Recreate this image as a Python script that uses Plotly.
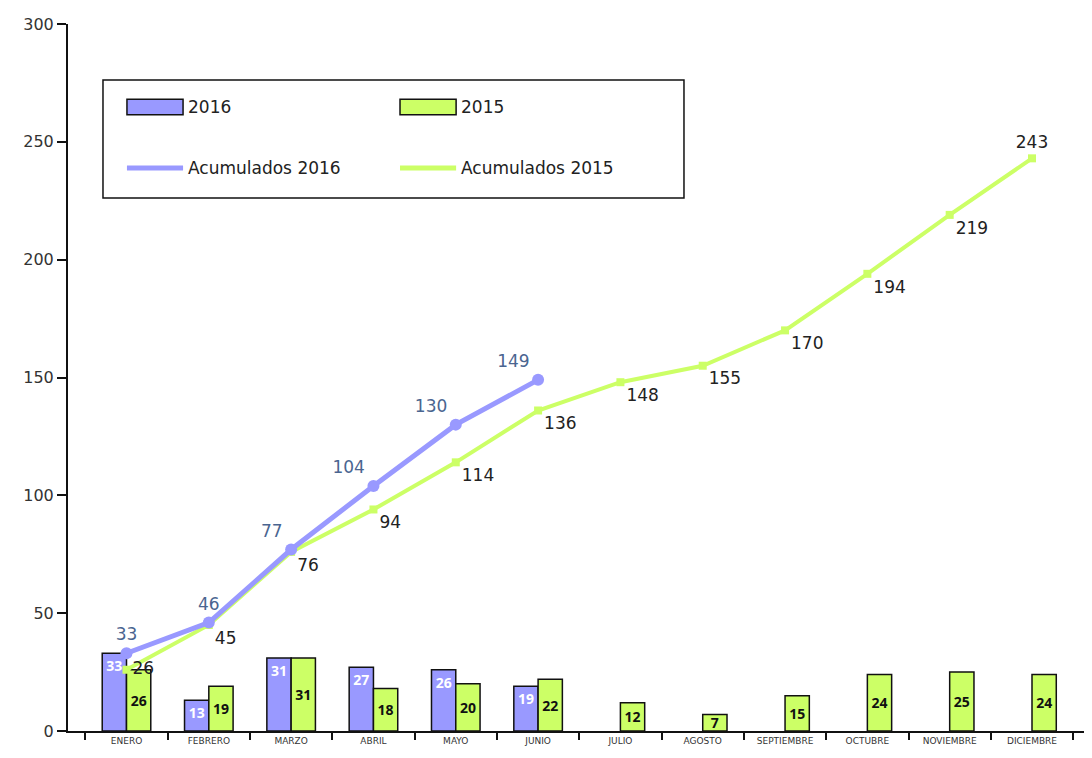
import plotly.graph_objects as go

months = ['ENERO', 'FEBRERO', 'MARZO', 'ABRIL', 'MAYO', 'JUNIO', 'JULIO',
          'AGOSTO', 'SEPTIEMBRE', 'OCTUBRE', 'NOVIEMBRE', 'DICIEMBRE']
bars_2016 = [33, 13, 31, 27, 26, 19, None, None, None, None, None, None]
bars_2015 = [26, 19, 31, 18, 20, 22, 12, 7, 15, 24, 25, 24]
acum_2016 = [33, 46, 77, 104, 130, 149]
acum_2015 = [26, 45, 76, 94, 114, 136, 148, 155, 170, 194, 219, 243]

c2016 = '#9999ff'
c2015 = '#ccff66'
lbl_font = 'Open Sans'

fig = go.Figure()

# monthly bars
fig.add_trace(go.Bar(
    x=months, y=bars_2016, name='2016',
    marker=dict(color=c2016, line=dict(color='#111111', width=1.5)),
    text=bars_2016, textposition='inside', insidetextanchor='end', textangle=0,
    textfont=dict(color='white', size=14, family=lbl_font, weight='bold'),
))
fig.add_trace(go.Bar(
    x=months, y=bars_2015, name='2015',
    marker=dict(color=c2015, line=dict(color='#111111', width=1.5)),
    text=bars_2015, textposition='inside', insidetextanchor='middle', textangle=0,
    textfont=dict(color='#111111', size=14, family=lbl_font, weight='bold'),
))

# cumulative lines
fig.add_trace(go.Scatter(
    x=months[:len(acum_2015)], y=acum_2015, name='Acumulados 2015',
    mode='lines+markers+text',
    line=dict(color=c2015, width=4),
    marker=dict(color=c2015, size=8, symbol='square'),
    text=acum_2015,
    textposition=['middle right'] + ['bottom right'] * 10 + ['top center'],
    textfont=dict(color='#222222', size=17, family='DejaVu Sans'),
    cliponaxis=False,
))
fig.add_trace(go.Scatter(
    x=months[:len(acum_2016)], y=acum_2016, name='Acumulados 2016',
    mode='lines+markers+text',
    line=dict(color=c2016, width=5),
    marker=dict(color=c2016, size=12),
    text=acum_2016,
    textposition=['top center', 'top center', 'top left', 'top left', 'top left', 'top left'],
    textfont=dict(color='#4a6590', size=17, family='DejaVu Sans'),
    cliponaxis=False,
))

# hand-drawn legend box to mimic the original
shapes = [dict(type='rect', xref='paper', yref='paper', x0=0.0343, x1=0.6039,
               y0=0.7539, y1=0.9208, line=dict(color='#111111', width=1.5),
               fillcolor='white')]
annotations = []
legend_items = [
    ('bar', c2016, '2016', 0.0578, 0.8826),
    ('bar', c2015, '2015', 0.3255, 0.8826),
    ('line', c2016, 'Acumulados 2016', 0.0578, 0.7963),
    ('line', c2015, 'Acumulados 2015', 0.3255, 0.7963),
]
for kind, col, label, x0, yc in legend_items:
    if kind == 'bar':
        shapes.append(dict(type='rect', xref='paper', yref='paper', x0=x0, x1=x0 + 0.055,
                           y0=yc - 0.011, y1=yc + 0.011, fillcolor=col,
                           line=dict(color='#111111', width=1.5)))
    else:
        shapes.append(dict(type='line', xref='paper', yref='paper', x0=x0, x1=x0 + 0.055,
                           y0=yc, y1=yc, line=dict(color=col, width=5)))
    annotations.append(dict(xref='paper', yref='paper', x=x0 + 0.058, y=yc, text=label,
                            showarrow=False, xanchor='left', yanchor='middle',
                            font=dict(size=17, color='#222222', family='DejaVu Sans')))

# page body adds an 8px margin, so the figure is a bit smaller than the window
fig.update_layout(
    width=1084, height=750,
    margin=dict(l=60, r=4, t=16, b=27),
    paper_bgcolor='white', plot_bgcolor='white',
    barmode='group', bargap=0.41, bargroupgap=0,
    showlegend=False,
    uniformtext=dict(minsize=13, mode='show'),
    shapes=shapes, annotations=annotations,
    xaxis=dict(
        categoryorder='array', categoryarray=months, automargin=False,
        showline=True, linecolor='#111111', linewidth=2,
        ticks='outside', tickson='boundaries', ticklen=7, tickcolor='#111111', tickwidth=2,
        tickfont=dict(size=9, color='#333333', family='DejaVu Sans'),
        showgrid=False,
    ),
    yaxis=dict(
        range=[0, 300], tickvals=[0, 50, 100, 150, 200, 250, 300], automargin=False,
        showline=True, linecolor='#111111', linewidth=2,
        ticks='outside', ticklen=9, tickcolor='#111111', tickwidth=1.5,
        tickfont=dict(size=16, color='#333333', family='DejaVu Sans'),
        showgrid=False, zeroline=False,
    ),
)

fig.write_html('out.html')
